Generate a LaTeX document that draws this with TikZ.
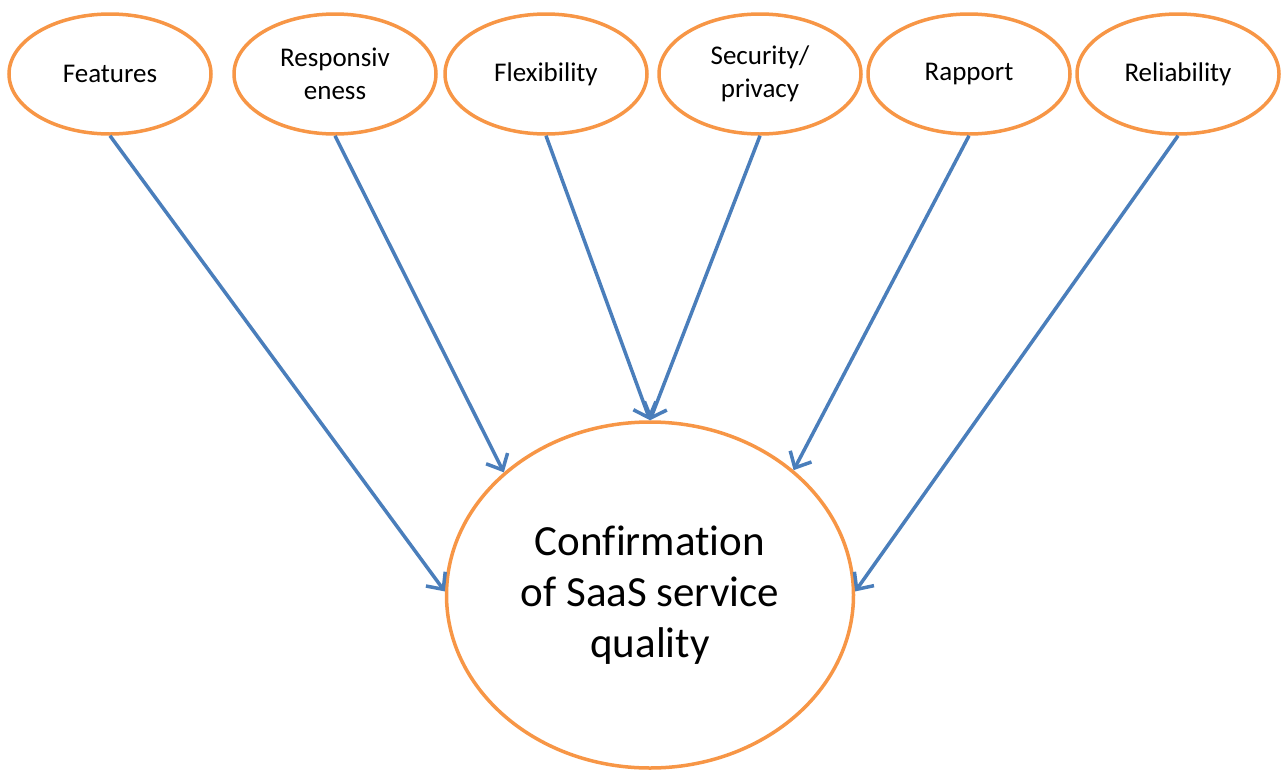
\documentclass[tikz,border=0pt]{standalone}
\usepackage{fontspec}
\setmainfont{Carlito}[Ligatures=NoCommon]
\usetikzlibrary{shapes.geometric,arrows.meta}
\definecolor{eorange}{HTML}{F79646}
\definecolor{ablue}{HTML}{4A7EBB}
\tikzset{
  small/.style={ellipse, draw=eorange, line width=3.5pt, fill=white,
    minimum width=202pt, minimum height=120pt, inner sep=0pt,
    align=center, font=\fontsize{27}{33}\selectfont},
  big/.style={ellipse, draw=eorange, line width=3.5pt, fill=white,
    minimum width=407pt, minimum height=346pt, inner sep=0pt,
    align=center, font=\fontsize{43}{51}\selectfont},
  conn/.style={draw=ablue, line width=3.5pt,
    -{Straight Barb[length=13pt,width=24pt]}}
}
\begin{document}
\begin{tikzpicture}[x=1pt,y=-1pt]
\useasboundingbox (0,0) rectangle (1283,772);
\node[small] (feat) at (110,74) {Features};
\node[small] (resp) at (335,74) {Responsiv\\eness};
\node[small] (flex) at (546,74) {Flexibility};
\node[small] (sec)  at (760,74) {Security/\\privacy};
\node[small] (rap)  at (969,74) {Rapport};
\node[small] (rel)  at (1178,74) {Reliability};
\node[big] (conf) at (650,595) {Confirmation\\of SaaS service\\quality};
\draw[conn] (feat.south) -- (conf.179);
\draw[conn] (resp.south) -- (conf.140);
\draw[conn] (flex.south) -- (conf.north);
\draw[conn] (sec.south) -- (conf.north);
\draw[conn] (rap.south) -- (conf.41);
\draw[conn] (rel.south) -- (conf.1);
\end{tikzpicture}
\end{document}
